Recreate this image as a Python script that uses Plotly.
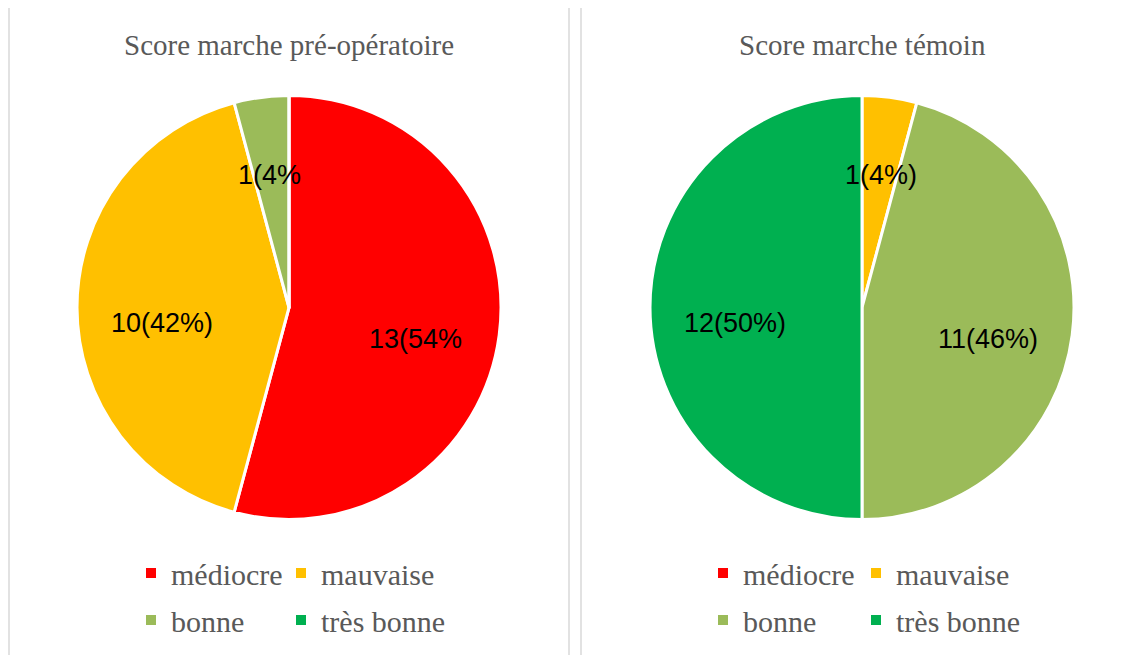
import math
import plotly.graph_objects as go

# the page body adds an 8px margin, so the figure is drawn 8px smaller
OFF = 8
W, H = 1135 - OFF, 655 - OFF

categories = ["médiocre", "mauvaise", "bonne", "très bonne"]
colors = ["#FF0000", "#FFC000", "#9BBB59", "#00B050"]

preop_values = [13, 10, 1, 0]
preop_text = ["13(54%", "10(42%)", "1(4%", ""]

temoin_values = [0, 1, 11, 12]
temoin_text = ["", "1(4%)", "11(46%)", "12(50%)"]

titles = ["Score marche pré-opératoire", "Score marche témoin"]

GRAY = "#595959"
BORDER = "#D9D9D9"
SERIF = "Liberation Serif, Times New Roman, serif"
SANS = "Liberation Sans, Arial, sans-serif"

R = 212  # pie radius, px
CENTERS = [(289, 307.5), (862, 307.5)]


def px_x(v):
    # screen pixel -> paper fraction
    return (v - OFF) / W


def px_y(v):
    return 1 - (v - OFF) / H


fig = go.Figure()

# the two pies
for (values, text), (cx, cy) in zip([(preop_values, preop_text), (temoin_values, temoin_text)], CENTERS):
    fig.add_trace(go.Pie(
        labels=categories,
        values=values,
        textinfo="none",
        marker=dict(colors=colors, line=dict(color="white", width=3)),
        sort=False,
        direction="clockwise",
        rotation=0,
        showlegend=False,
        domain=dict(x=[px_x(cx - R), px_x(cx + R)], y=[px_y(cy + R), px_y(cy - R)]),
    ))

    # data labels, placed on each slice's middle angle (Excel style, text may overflow)
    total = sum(values)
    cum = 0
    for v, t in zip(values, text):
        if v > 0 and t:
            mid = (cum + v / 2) / total * 2 * math.pi
            f = 0.6 if v / total > 0.1 else 0.7
            fig.add_annotation(
                text=t, xref="paper", yref="paper", showarrow=False,
                x=px_x(cx + f * R * math.sin(mid)),
                y=px_y(cy - f * R * math.cos(mid)),
                xanchor="center", yanchor="middle",
                yshift=-15,
                font=dict(family=SANS, size=27, color="black"),
            )
        cum += v

# legends: one two-row legend per column and per panel
legend_cols = [(0, 2), (1, 3)]
legend_spots = [131, 281, 703, 856]
k = 0
for panel in range(2):
    for col in range(2):
        name = "legend" if k == 0 else f"legend{k + 1}"
        for i in legend_cols[col]:
            fig.add_trace(go.Scatter(
                x=[None], y=[None],
                mode="markers",
                name=categories[i],
                legendgroup=f"{name}-{i}",
                marker=dict(symbol="square", size=10, color=colors[i]),
                legend=name,
            ))
        fig.update_layout({name: dict(
            orientation="v",
            x=px_x(legend_spots[k]), y=px_y(547),
            xanchor="left", yanchor="top",
            tracegroupgap=5,
            font=dict(family=SERIF, size=30, color=GRAY),
            bgcolor="rgba(0,0,0,0)",
            itemclick=False,
        )})
        k += 1

# panel frames
for x0, x1 in [(9, 569), (581, 1145)]:
    fig.add_shape(
        type="rect", xref="paper", yref="paper",
        x0=px_x(x0), x1=px_x(x1), y0=px_y(670), y1=px_y(6),
        line=dict(color=BORDER, width=1.5),
    )

for title, (cx, _) in zip(titles, CENTERS):
    fig.add_annotation(
        text=title, xref="paper", yref="paper",
        x=px_x(cx), y=px_y(45), showarrow=False,
        xanchor="center", yanchor="middle",
        font=dict(family=SERIF, size=29, color=GRAY),
    )

fig.update_layout(
    width=W, height=H,
    margin=dict(l=0, r=0, t=0, b=0),
    paper_bgcolor="white",
    plot_bgcolor="white",
    xaxis=dict(visible=False),
    yaxis=dict(visible=False),
)

fig.write_html("out.html")
